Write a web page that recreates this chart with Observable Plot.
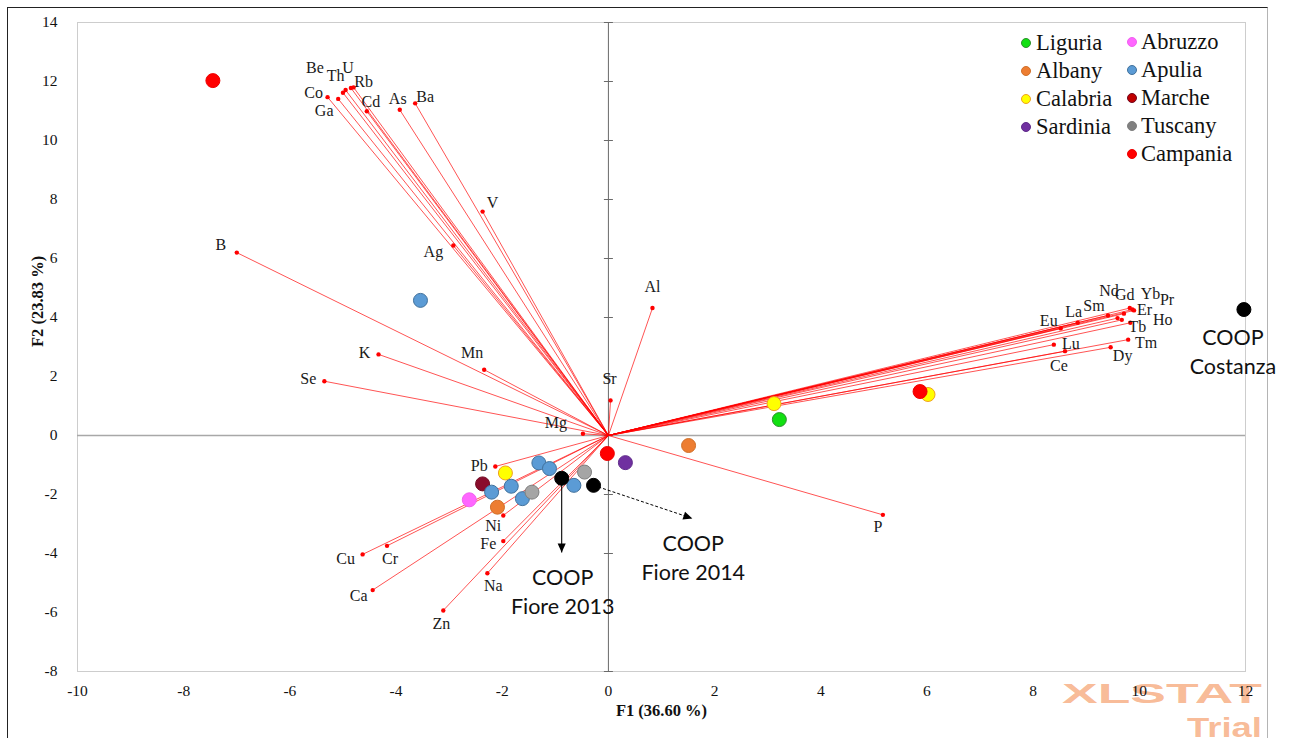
<!DOCTYPE html>
<html>
<head>
<meta charset="utf-8">
<script src="https://cdn.jsdelivr.net/npm/d3@7"></script>
<script src="https://cdn.jsdelivr.net/npm/@observablehq/plot@0.6"></script>
<style>
  body { margin: 0; background: #fff; }
  #wrap { position: relative; width: 1292px; height: 738px; overflow: hidden; background: #fff; }
  #frame { position: absolute; left: 7px; top: 7px; width: 1259px; height: 800px;
           border-left: 1.5px solid #222; border-top: 1.5px solid #222; border-right: 1px solid #b4b4b4; }
  #chart { position: absolute; left: 0; top: 0; }
  .legend-item { position: absolute; height: 28px; display: flex; align-items: center;
                 font-family: "Liberation Serif", "Tinos", "Times New Roman", "DejaVu Serif", serif;
                 font-size: 22.5px; color: #111; white-space: nowrap; }
  .legend-item .sw { width: 10px; height: 10px; border-radius: 50%; box-sizing: border-box; flex: none; }
</style>
</head>
<body>
<div id="wrap">
  <div id="frame"></div>
  <div id="chart"></div>
</div>
<script>
// ---- Variable loadings (F1, F2) ----
const variables = ["Be","Th","U","Rb","Co","Ga","Cd","As","Ba","V","Ag","B","Al","K","Mn","Se","Mg","Sr",
  "Pb","Ni","Fe","Na","Zn","Ca","Cu","Cr","P","Gd","Yb","Pr","Nd","Sm","Er","Ho","La","Tb","Tm","Lu","Ce","Dy","Eu"];
const varF1 = [-5.00,-4.95,-4.85,-4.80,-5.29,-5.09,-4.55,-3.93,-3.64,-2.37,-2.92,-7.00,0.83,-4.33,-2.34,-5.35,-0.48,0.04,
  -2.13,-1.98,-1.98,-2.28,-3.11,-4.44,-4.63,-4.17,5.17,9.82,9.87,9.90,9.71,9.41,9.59,9.67,8.84,9.83,9.79,8.39,8.60,9.46,8.52];
const varF2 = [11.62,11.71,11.78,11.80,11.47,11.41,10.99,11.04,11.26,7.59,6.44,6.20,4.32,2.75,2.23,1.84,0.06,1.19,
  -1.05,-2.71,-3.58,-4.67,-5.93,-5.24,-4.03,-3.74,-2.69,4.32,4.27,4.24,4.13,4.07,3.98,3.92,3.82,3.82,3.25,3.08,2.86,2.99,3.63];

// ---- Observations (wine samples) ----
const obsRegion = ["Campania","Apulia","Calabria","Campania","Calabria","Liguria","Albany","Campania","Sardinia",
  "Apulia","Apulia","Calabria","Marche","Apulia","Apulia","Abruzzo","Albany","Apulia","Tuscany","Tuscany","Apulia",
  "COOP","COOP","COOP"];
const obsF1 = [-7.45,-3.54,6.02,5.87,3.12,3.22,1.51,-0.02,0.32,
  -1.31,-1.11,-1.94,-2.37,-1.83,-2.20,-2.62,-2.09,-1.62,-1.44,-0.45,-0.65,
  -0.88,-0.28,11.97];
const obsF2 = [12.03,4.58,1.39,1.49,1.08,0.54,-0.34,-0.61,-0.92,
  -0.93,-1.12,-1.27,-1.64,-1.72,-1.92,-2.18,-2.43,-2.14,-1.92,-1.24,-1.69,
  -1.45,-1.69,4.27];

// ---- COOP annotations: which sample, and where its pointer ends ----
const coopText = ["COOP\nCostanza", "COOP\nFiore 2013", "COOP\nFiore 2014"];
const coopSample = [23, 21, 22];
const coopTipF1 = [null, -0.88, 1.58];
const coopTipF2 = [null, -3.97, -2.81];

// ---- Legend ----
const legendCol1 = ["Liguria","Albany","Calabria","Sardinia"];
const legendCol2 = ["Abruzzo","Apulia","Marche","Tuscany","Campania"];

// ---- Axis ticks ----
const xTicks = [-10,-8,-6,-4,-2,0,2,4,6,8,10,12];
const yTicks = [-8,-6,-4,-2,0,2,4,6,8,10,12,14];

// Region styling
const regionFill = {
  Liguria: "#11e011", Albany: "#ed7d31", Calabria: "#ffff00", Sardinia: "#7030a0",
  Abruzzo: "#ff66ff", Apulia: "#5b9bd5", Marche: "#8a0c2c", Tuscany: "#a5a5a5",
  Campania: "#ff0000", COOP: "#000000"
};
const regionStroke = {
  Liguria: "#2f8f2f", Albany: "#d0702a", Calabria: "#f0a020", Sardinia: "#5f2a8a",
  Abruzzo: "#f060f0", Apulia: "#41719c", Marche: "#70081f", Tuscany: "#7f7f7f",
  Campania: "#ee0000", COOP: "#000000"
};
const legendFill = Object.assign({}, regionFill, {Marche: "#c00000", Tuscany: "#808080"});

// Label placement around each loading tip (pixels)
const labelNudge = {
  Be:[-28,-25], Th:[-10,-14], U:[-3,-20], Rb:[10,-6], Co:[-14,-4], Ga:[-14,12], Cd:[4,-9], As:[-2,-11], Ba:[10,-6],
  V:[10,-9], Ag:[-20,6], B:[-16,-8], Al:[0,-21], K:[-14,-2], Mn:[-12,-17], Se:[-16,-2], Mg:[-27,-11], Sr:[-1,-22],
  Pb:[-16,-1], Ni:[-10,10], Fe:[-15,3], Na:[6,13], Zn:[-2,13], Ca:[-14,6], Cu:[-17,4], Cr:[3,13], P:[-5,12],
  Gd:[-5,-13], Yb:[18,-16], Pr:[33,-11], Nd:[-15,-23], Sm:[-14,-10], Er:[27,-8], Ho:[41,0], La:[-4,-11],
  Tb:[7,4], Tm:[18,3], Lu:[17,-1], Ce:[-6,15], Dy:[12,9], Eu:[-12,-8]
};

const vars = variables.map((name, i) => ({name, f1: varF1[i], f2: varF2[i]}));
const obs = obsRegion.map((region, i) => ({region, f1: obsF1[i], f2: obsF2[i]}));
const notes = coopText.map((text, i) => ({
  text, f1: obsF1[coopSample[i]], f2: obsF2[coopSample[i]], tipF1: coopTipF1[i], tipF2: coopTipF2[i]
}));

// short horizontal tick drawn across the vertical zero axis
const crossTick = { draw(ctx) { ctx.moveTo(-4.5, 0); ctx.lineTo(4.5, 0); } };

const serif = "'Liberation Serif', Tinos, 'Times New Roman', 'DejaVu Serif', serif";
const sans = "Lato, sans-serif";
const pointerInk = "#010101"; // ink of the COOP pointer lines, also used to find them for arrowheads

const labelMarks = vars.map(v => Plot.text([v], {
  x: "f1", y: "f2", text: "name", dx: labelNudge[v.name][0], dy: labelNudge[v.name][1],
  fontSize: 16, fill: "#1a1a1a", fontFamily: serif
}));

const svg = Plot.plot({
  width: 1292, height: 738,
  marginLeft: 77, marginRight: 47, marginTop: 22, marginBottom: 67,
  x: {domain: [-10, 12]},
  y: {domain: [-8, 14]},
  style: {fontFamily: serif, fontSize: "15.5px", color: "#111", background: "transparent"},
  marks: [
    Plot.frame({stroke: "#cdcdcd"}),
    Plot.ruleY([0], {stroke: "#a8a8a8", strokeWidth: 1.5}),
    Plot.ruleX([0], {stroke: "#6a6a6a", strokeWidth: 1}),
    Plot.dot(yTicks, {x: () => 0, y: d => d, symbol: crossTick, r: 4, fill: "none", stroke: "#6a6a6a", strokeWidth: 1}),
    Plot.axisX({ticks: xTicks, tickSize: 0, tickPadding: 13, tickFormat: d => String(d), label: null, fontFamily: serif}),
    Plot.axisY({ticks: yTicks, tickSize: 0, tickPadding: 20, tickFormat: d => String(d), label: null, fontFamily: serif}),
    Plot.text(["F1 (36.60 %)"], {text: d => d, frameAnchor: "bottom", dy: 44, fontWeight: "bold", fontSize: 16.5, fill: "#111", fontFamily: serif}),
    Plot.text(["F2 (23.83 %)"], {text: d => d, frameAnchor: "left", dx: -40, rotate: -90, fontWeight: "bold", fontSize: 16.5, fill: "#111", fontFamily: serif}),

    // loading vectors
    Plot.link(vars, {x1: () => 0, y1: () => 0, x2: "f1", y2: "f2", stroke: "#ff0000", strokeWidth: 0.85, strokeOpacity: 0.8}),
    Plot.dot(vars, {x: "f1", y: "f2", r: 2.2, fill: "#ff0000"}),
    ...labelMarks,

    // COOP pointers
    Plot.link(notes.filter(d => d.text.includes("2013")), {x1: "f1", y1: "f2", x2: "tipF1", y2: "tipF2",
      stroke: pointerInk, strokeWidth: 1.1}),
    Plot.link(notes.filter(d => d.text.includes("2014")), {x1: "f1", y1: "f2", x2: "tipF1", y2: "tipF2",
      stroke: pointerInk, strokeWidth: 1, strokeDasharray: "3,2"}),

    // samples
    Plot.dot(obs, {x: "f1", y: "f2", r: 7, fill: d => regionFill[d.region], stroke: d => regionStroke[d.region], strokeWidth: 1}),

    // COOP captions
    Plot.text(notes.filter(d => d.tipF1 == null), {x: "f1", y: "f2", text: "text", dx: -11, dy: 40.5,
      fontFamily: sans, fontSize: 21.5, lineHeight: 1.35, fill: "#111"}),
    Plot.text(notes.filter(d => d.tipF1 != null), {x: "tipF1", y: "tipF2", text: "text", dx: 1, dy: 37.5,
      fontFamily: sans, fontSize: 21.5, lineHeight: 1.35, fill: "#111"})
  ]
});

// filled arrowheads for the COOP pointers
const root = d3.select(svg);
const defs = root.insert("defs", ":first-child");
defs.append("marker")
  .attr("id", "coop-head").attr("viewBox", "0 -5 10 10").attr("refX", 10).attr("refY", 0)
  .attr("markerWidth", 10).attr("markerHeight", 9).attr("markerUnits", "userSpaceOnUse").attr("orient", "auto")
  .append("path").attr("d", "M0,-4.5L10,0L0,4.5Z").attr("fill", "#000");
root.selectAll("path, line").filter(function () {
  const own = this.getAttribute("stroke");
  const parent = this.parentNode && this.parentNode.getAttribute && this.parentNode.getAttribute("stroke");
  return own === pointerInk || parent === pointerInk;
}).attr("marker-end", "url(#coop-head)");

// trial watermark, underneath everything else
const wm = root.insert("g", "defs + *").attr("font-family", "'Liberation Sans', Arial, sans-serif")
  .attr("text-anchor", "start").attr("font-weight", "bold").attr("fill", "#f4945c").attr("fill-opacity", 0.65);
wm.append("text").attr("x", 1062).attr("y", 703).attr("font-size", 28)
  .attr("textLength", 200).attr("lengthAdjust", "spacingAndGlyphs").text("XLSTAT");
wm.append("text").attr("x", 1187).attr("y", 737).attr("font-size", 28)
  .attr("textLength", 75).attr("lengthAdjust", "spacingAndGlyphs").text("Trial");

document.getElementById("chart").appendChild(svg);

// legend
const wrap = document.getElementById("wrap");
function addLegend(names, dotX, textX, top0) {
  names.forEach((name, i) => {
    const item = document.createElement("div");
    item.className = "legend-item";
    item.style.left = (dotX - 5) + "px";
    item.style.top = (top0 + i * 28) + "px";
    const sw = document.createElement("span");
    sw.className = "sw";
    sw.style.background = legendFill[name];
    sw.style.border = "1px solid " + regionStroke[name];
    sw.style.marginRight = (textX - dotX - 5) + "px";
    item.appendChild(sw);
    item.appendChild(document.createTextNode(name));
    wrap.appendChild(item);
  });
}
addLegend(legendCol1, 1026, 1036, 29);
addLegend(legendCol2, 1132, 1141, 28);
</script>
</body>
</html>
